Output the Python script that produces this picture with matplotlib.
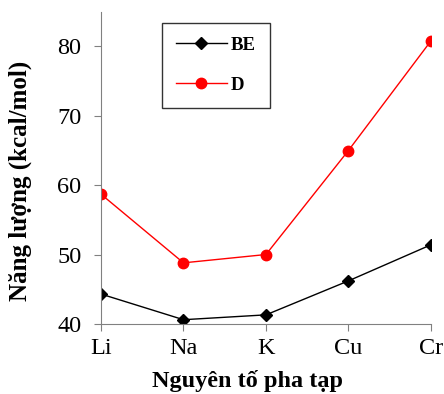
import matplotlib.pyplot as plt

# du lieu
elements = ["Li", "Na", "K", "Cu", "Cr"]
be = [44.3, 40.6, 41.3, 46.2, 51.4]
d = [58.7, 48.8, 50.0, 65.0, 80.8]
yticks = [40, 50, 60, 70, 80]

plt.rcParams['font.family'] = ['Liberation Serif', 'DejaVu Serif']

fig = plt.figure(figsize=(4.44, 3.94), dpi=100)
ax = fig.add_axes([0.2275, 0.178, 0.743, 0.792])

x = list(range(len(elements)))
ax.plot(x, be, color="black", marker="D", markersize=6, linewidth=1, label="BE")
ax.plot(x, d, color="red", marker="o", markersize=7.5, linewidth=1, label="D")

ax.set_xlim(0, len(elements) - 1)
ax.set_ylim(40, 85)
ax.set_xticks(x)
ax.set_xticklabels(elements)
ax.set_yticks(yticks)

for s in ["top", "right"]:
    ax.spines[s].set_visible(False)
for s in ["left", "bottom"]:
    ax.spines[s].set_color("#808080")
ax.tick_params(axis="both", direction="out", length=5, color="#808080",
               labelsize=17.5)
ax.tick_params(axis="y", pad=9)
ax.tick_params(axis="x", pad=5)

ax.set_xlabel("Nguyên tố pha tạp", fontsize=17.5, fontweight="bold")
ax.set_ylabel("Năng lượng (kcal/mol)", fontsize=18, fontweight="bold")
ax.xaxis.set_label_coords(0.445, -0.147)
ax.yaxis.set_label_coords(-0.209, 0.458)

leg = ax.legend(loc="upper left", bbox_to_anchor=(0.185, 0.965), frameon=True,
                fancybox=False, edgecolor="black", borderpad=0.75,
                borderaxespad=0, labelspacing=1.2, handlelength=2.7,
                handletextpad=0.2, prop={"weight": "bold", "size": 13.5})
leg.get_frame().set_linewidth(1)

fig.savefig("out.png", dpi=100)
